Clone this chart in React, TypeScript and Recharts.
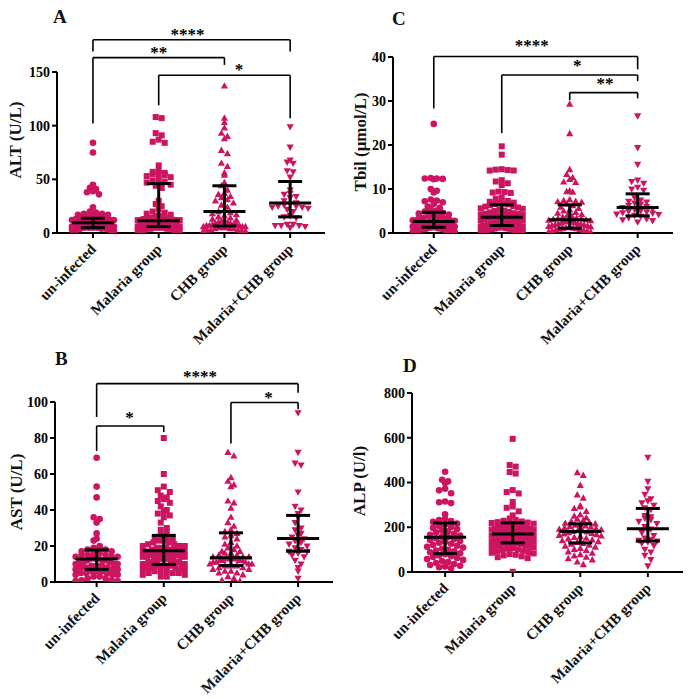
import React from 'react';
import { ScatterChart, Scatter, XAxis, YAxis, ReferenceLine, ReferenceDot } from 'recharts';

const groups = ['un-infected', 'Malaria group', 'CHB group', 'Malaria+CHB group'];
const markerKinds = ['circle', 'square', 'up', 'down'];

// A: ALT (U/L)
const altUninfected = [84, 75, 45, 42, 41, 39, 38, 36, 24, 20, 19, 18, 18, 17, 17, 16, 16, 15, 15, 14, 14, 14, 13, 13, 12, 12, 12, 11, 11, 11, 10, 10, 10, 10, 10, 9, 9, 9, 9, 8, 8, 8, 8, 7, 7, 7, 7, 6, 6, 6, 6, 5, 5, 5, 5, 4, 4, 4, 3, 3, 3, 2];
const altMalaria = [108, 107, 93, 91, 87, 85, 84, 63, 58, 57, 56, 55, 55, 54, 53, 52, 50, 49, 48, 47, 45, 44, 42, 30, 27, 25, 22, 20, 19, 18, 17, 16, 15, 15, 14, 14, 14, 13, 13, 13, 13, 12, 12, 12, 12, 12, 11, 11, 11, 11, 11, 11, 10, 10, 10, 10, 10, 9, 9, 9, 9, 9, 8, 8, 8, 8, 8, 7, 7, 7, 7, 7, 6, 6, 6, 6, 5, 5, 5, 5, 4, 4, 4, 4, 3, 3, 3, 2, 2, 2];
const altChb = [137, 107, 103, 98, 93, 90, 88, 77, 74, 65, 62, 56, 54, 47, 44, 40, 37, 36, 34, 33, 31, 30, 28, 26, 24, 21, 20, 19, 18, 17, 16, 15, 14, 13, 12, 11, 11, 10, 10, 9, 9, 8, 8, 8, 7, 7, 7, 6, 6, 6, 5, 5, 5, 4, 4, 4, 3, 3, 3, 2, 2, 2];
const altMalariaChb = [99, 80, 68, 66, 65, 58, 57, 52, 40, 37, 36, 34, 33, 30, 28, 27, 26, 25, 25, 24, 24, 23, 22, 20, 16, 15, 14, 8, 8, 7, 7, 7, 6, 5];
const altMedian = [9.6, 11.5, 20, 28];
const altQ1 = [5, 6, 6.5, 15];
const altQ3 = [13.7, 46, 44, 48];
const altTicks = [0, 50, 100, 150];
const altBrackets = [
  { from: 1, to: 4, y: 180, leftEnd: 169, rightEnd: 169, stars: '****', starX: 2.44, starY: 187.6 },
  { from: 1, to: 3, y: 163.4, leftEnd: 102, rightEnd: 156.6, stars: '**', starX: 2.0, starY: 170.5 },
  { from: 2, to: 4, y: 147, leftEnd: 119, rightEnd: 107, stars: '*', starX: 3.22, starY: 155 },
];

// B: AST (U/L)
const astUninfected = [69, 53, 47, 36, 35, 33, 27, 24, 23, 20, 19, 19, 18, 18, 17, 17, 16, 16, 15, 15, 15, 14, 14, 14, 13, 13, 13, 12, 12, 12, 11, 11, 11, 10, 10, 10, 9, 9, 9, 8, 8, 8, 7, 7, 7, 6, 6, 6, 5, 5, 5, 4, 4, 4, 3, 3, 2, 2, 1, 1, 0.5, 0.5];
const astMalaria = [80, 60, 53, 51, 50, 48, 47, 46, 45, 44, 42, 40, 39, 38, 37, 36, 33, 30, 29, 27, 26, 25, 24, 24, 23, 23, 22, 22, 21, 21, 20, 20, 20, 19, 19, 19, 18, 18, 18, 17, 17, 17, 17, 16, 16, 16, 15, 15, 15, 15, 14, 14, 14, 14, 13, 13, 13, 13, 12, 12, 12, 12, 11, 11, 11, 11, 10, 10, 10, 10, 9, 9, 9, 9, 8, 8, 8, 7, 7, 7, 6, 6, 6, 5, 5, 5, 4, 4, 3, 3];
const astChb = [72, 70, 58, 56, 54, 53, 45, 44, 41, 36, 33, 31, 29, 28, 27, 26, 25, 24, 22, 21, 20, 19, 18, 17, 17, 16, 16, 15, 15, 14, 14, 14, 13, 13, 13, 13, 12, 12, 12, 12, 11, 11, 11, 10, 10, 10, 9, 9, 9, 8, 8, 7, 7, 6, 6, 5, 5, 4, 3, 2, 1, 0.5];
const astMalariaChb = [94, 72, 66, 65, 50, 42, 40, 38, 36, 33, 30, 29, 27, 26, 25, 24, 23, 22, 21, 20, 19, 18, 17, 17, 16, 15, 14, 12, 10, 8, 6, 2];
const astMedian = [12.8, 17.4, 13.5, 24.1];
const astQ1 = [7, 9.8, 9.2, 17.1];
const astQ3 = [17.8, 25.9, 27.3, 37];
const astTicks = [0, 20, 40, 60, 80, 100];
const astBrackets = [
  { from: 1, to: 4, y: 110.2, leftEnd: 91.7, rightEnd: 105.2, stars: '****', starX: 2.54, starY: 115.8 },
  { from: 1, to: 2, y: 86.7, leftEnd: 72.8, rightEnd: 83.3, stars: '*', starX: 1.49, starY: 92.6 },
  { from: 3, to: 4, y: 99.7, leftEnd: 76.9, rightEnd: 96, stars: '*', starX: 3.56, starY: 104 },
];

// C: Tbil (μmol/L)
const tbilUninfected = [24.8, 12.5, 12.4, 12.4, 12.3, 12.2, 10, 9.6, 9.2, 7.6, 7.4, 7.2, 7, 6.6, 6, 5.7, 5.4, 5.1, 4.9, 4.6, 4.4, 4.2, 4, 3.8, 3.6, 3.4, 3.3, 3.1, 3, 2.9, 2.8, 2.7, 2.6, 2.5, 2.4, 2.3, 2.2, 2.1, 2, 1.9, 1.8, 1.7, 1.6, 1.6, 1.5, 1.4, 1.3, 1.3, 1.2, 1.1, 1, 1, 0.9, 0.8, 0.8, 0.7, 0.6, 0.5, 0.5, 0.4, 0.3, 0.2];
const tbilMalaria = [19.7, 17.8, 14.5, 14.4, 14.3, 14.2, 14.2, 12, 11.7, 11.3, 10.9, 9.4, 9.3, 9.2, 9.1, 8, 7.8, 7.3, 7.1, 6.9, 6.8, 6.7, 6.6, 6.5, 6.3, 6.1, 6, 5.8, 5.6, 5.5, 5.3, 5.1, 5, 4.8, 4.7, 4.5, 4.4, 4.3, 4.2, 4.1, 4, 3.9, 3.8, 3.7, 3.7, 3.6, 3.5, 3.4, 3.3, 3.2, 3.1, 3, 2.9, 2.8, 2.7, 2.6, 2.5, 2.5, 2.4, 2.3, 2.2, 2.1, 2, 2, 1.9, 1.8, 1.7, 1.7, 1.6, 1.5, 1.5, 1.4, 1.3, 1.3, 1.2, 1.1, 1, 1, 0.9, 0.8, 0.8, 0.7, 0.6, 0.6, 0.5, 0.4, 0.4, 0.3];
const tbilChb = [29.3, 22.6, 14.4, 13.3, 12.6, 12.2, 11.6, 11.5, 9.6, 9.4, 9.3, 7.6, 7.4, 7.2, 7.1, 7, 6.6, 6.2, 5.9, 5.6, 5.3, 5, 4.7, 4.5, 4.2, 4, 3.8, 3.6, 3.4, 3.3, 3.2, 3.1, 3, 2.9, 2.8, 2.7, 2.6, 2.5, 2.4, 2.3, 2.2, 2.1, 2, 1.9, 1.8, 1.7, 1.6, 1.5, 1.4, 1.3, 1.2, 1.1, 1, 1, 0.9, 0.8, 0.7, 0.6, 0.5, 0.4, 0.3, 0.2];
const tbilMalariaChb = [26.6, 19.4, 15.6, 12, 11.7, 11.3, 10.4, 10, 9.7, 8, 7.5, 7.2, 7, 6.8, 6.5, 6.3, 6, 5.8, 5.5, 5.3, 5, 4.9, 4.8, 4.6, 4.5, 4.3, 4.2, 4, 3.8, 3.5, 3.2, 3, 2.8, 2.5];
const tbilMedian = [2.6, 3.6, 3.0, 5.8];
const tbilQ1 = [1.3, 1.7, 1.1, 3.9];
const tbilQ3 = [4.7, 6.4, 6.4, 8.9];
const tbilTicks = [0, 10, 20, 30, 40];
const tbilBrackets = [
  { from: 1, to: 4, y: 40.1, leftEnd: 28.3, rightEnd: 37.2, stars: '****', starX: 2.44, starY: 43.1 },
  { from: 2, to: 4, y: 35.9, leftEnd: 22.7, rightEnd: 34.5, stars: '*', starX: 3.11, starY: 38.6 },
  { from: 3, to: 4, y: 31.9, leftEnd: 30.2, rightEnd: 30.6, stars: '**', starX: 3.52, starY: 34.5 },
];

// D: ALP (U/l)
const alpUninfected = [448, 412, 405, 398, 372, 365, 352, 315, 312, 308, 258, 238, 232, 228, 224, 217, 212, 206, 201, 197, 192, 186, 182, 177, 171, 166, 163, 158, 156, 151, 147, 143, 139, 134, 131, 126, 121, 117, 113, 109, 104, 99, 96, 92, 88, 84, 79, 74, 71, 67, 63, 58, 54, 49, 44, 40, 36, 31, 28, 25, 21, 17];
const alpMalaria = [595, 478, 471, 447, 440, 366, 357, 351, 313, 293, 287, 271, 253, 239, 233, 229, 226, 223, 221, 219, 216, 214, 211, 209, 207, 205, 203, 201, 199, 197, 196, 194, 192, 190, 188, 187, 185, 183, 181, 179, 178, 176, 174, 172, 170, 169, 167, 165, 163, 161, 159, 157, 155, 153, 151, 149, 147, 145, 143, 141, 139, 137, 135, 132, 130, 128, 126, 124, 121, 119, 117, 114, 112, 110, 107, 104, 101, 98, 95, 92, 89, 86, 83, 80, 77, 74, 70, 66, 62, 1];
const alpChb = [444, 432, 387, 345, 330, 296, 291, 284, 271, 256, 250, 242, 236, 231, 226, 222, 218, 215, 212, 209, 206, 203, 200, 197, 194, 191, 189, 186, 184, 181, 179, 176, 173, 170, 167, 164, 161, 158, 155, 151, 148, 144, 140, 136, 132, 128, 124, 120, 116, 111, 106, 101, 96, 90, 84, 78, 72, 66, 60, 54, 45, 33];
const alpMalariaChb = [512, 405, 372, 347, 327, 318, 309, 298, 287, 279, 252, 246, 241, 234, 226, 216, 203, 192, 186, 176, 163, 152, 146, 141, 138, 134, 129, 118, 101, 89, 74, 55, 27];
const alpMedian = [155, 170, 181, 193];
const alpQ1 = [82, 130, 130, 138];
const alpQ3 = [219, 220, 215, 284];
const alpTicks = [0, 200, 400, 600, 800];

const FONT = '"Liberation Serif", "Times New Roman", serif';
const DOT = '#CC1460';
const INK = '#000';

type Bracket = { from: number; to: number; y: number; leftEnd: number; rightEnd: number; stars: string; starX: number; starY: number };

const Marker = ({ cx, cy, kind }: { cx: number; cy: number; kind: string }) => {
  if (cx == null || cy == null) return null;
  if (kind === 'circle') return <circle cx={cx} cy={cy} r={3.3} fill={DOT} />;
  if (kind === 'square') return <rect x={cx - 3} y={cy - 3} width={6} height={6} fill={DOT} />;
  if (kind === 'up')
    return <polygon points={`${cx},${cy - 3.8} ${cx + 3.6},${cy + 2.6} ${cx - 3.6},${cy + 2.6}`} fill={DOT} />;
  return <polygon points={`${cx},${cy + 3.8} ${cx + 3.6},${cy - 2.6} ${cx - 3.6},${cy - 2.6}`} fill={DOT} />;
};

// median line plus interquartile whisker, drawn on top of the dots
const Summary = ({ cx, cy, payload, pxPerY }: any) => {
  if (cx == null || cy == null) return null;
  const yLo = cy + (payload.y - payload.lo) * pxPerY;
  const yHi = cy - (payload.hi - payload.y) * pxPerY;
  return (
    <g stroke={INK} strokeWidth={3}>
      <line x1={cx} x2={cx} y1={yLo} y2={yHi} />
      <line x1={cx - 12} x2={cx + 12} y1={yLo} y2={yLo} />
      <line x1={cx - 12} x2={cx + 12} y1={yHi} y2={yHi} />
      <line x1={cx - 21} x2={cx + 21} y1={cy} y2={cy} />
    </g>
  );
};

// Prism-like scatter dot layout: points grouped in rows of marker height,
// spread sideways around the category, compressed when a row gets crowded
function swarm(values: number[], cat: number, pxPerY: number, pxPerX: number) {
  const rowH = 6;
  const half = 21;
  const rows = new Map<number, number[]>();
  values.forEach((v) => {
    const r = Math.floor((v * pxPerY) / rowH);
    if (!rows.has(r)) rows.set(r, []);
    rows.get(r)!.push(v);
  });
  const out: { x: number; y: number }[] = [];
  rows.forEach((list) => {
    const n = list.length;
    const step = n > 1 ? Math.min(6, (2 * half) / (n - 1)) : 0;
    const offs = list.map((_, k) => (k - (n - 1) / 2) * step).sort((a, b) => Math.abs(a) - Math.abs(b));
    list.forEach((v, k) => out.push({ x: cat + offs[k] / pxPerX, y: v }));
  });
  return out;
}

const XTick = (props: any) => {
  const { x, y, payload } = props;
  const ax = x + 4;
  const ay = y + 10;
  return (
    <text x={ax} y={ay} transform={`rotate(-45 ${ax} ${ay})`} textAnchor="end" fontSize={15} fontWeight="bold" fontFamily={FONT} fill="#111">
      {groups[payload.value - 1]}
    </text>
  );
};

const YTitle = ({ text, tx, ty }: { text: string; tx: number; ty: number }) => (
  <text x={tx} y={ty} transform={`rotate(-90 ${tx} ${ty})`} textAnchor="middle" dominantBaseline="central" fontSize={17} fontWeight="bold" fontFamily={FONT} fill="#111">
    {text}
  </text>
);

type PanelProps = {
  title: string;
  series: number[][];
  median: number[];
  q1: number[];
  q3: number[];
  ticks: number[];
  brackets: Bracket[];
  left: number;
  top: number;
  width: number;
  height: number;
  plotTop: number;
  axisWidth: number;
  axisHeight: number;
  rightGap: number;
  xDomain: [number, number];
  titleX: number;
  titleY: number;
};

const Panel = (p: PanelProps) => {
  const plotH = p.height - p.plotTop - p.axisHeight;
  const plotW = p.width - p.axisWidth - p.rightGap;
  const yMax = p.ticks[p.ticks.length - 1];
  const pxPerY = plotH / yMax;
  const pxPerX = plotW / (p.xDomain[1] - p.xDomain[0]);
  const line = { stroke: INK, strokeWidth: 2 };
  const summary = p.median.map((m, i) => ({ x: i + 1, y: m, lo: p.q1[i], hi: p.q3[i] }));

  return (
    <div style={{ position: 'absolute', left: p.left, top: p.top }}>
      <ScatterChart width={p.width} height={p.height} margin={{ top: p.plotTop, right: p.rightGap, bottom: 0, left: 0 }}>
        <XAxis
          type="number"
          dataKey="x"
          domain={p.xDomain}
          ticks={[1, 2, 3, 4]}
          interval={0}
          allowDataOverflow
          height={p.axisHeight}
          tickSize={5}
          tick={<XTick />}
          axisLine={line}
          tickLine={line}
        />
        <YAxis
          type="number"
          dataKey="y"
          domain={[0, yMax]}
          ticks={p.ticks}
          interval={0}
          allowDataOverflow
          width={p.axisWidth}
          tickSize={5}
          tick={{ fill: INK, fontSize: 14, fontWeight: 'bold', fontFamily: FONT }}
          axisLine={line}
          tickLine={line}
          label={<YTitle text={p.title} tx={p.titleX} ty={p.titleY} />}
        />
        {p.series.map((vals, i) => (
          <Scatter
            key={groups[i]}
            name={groups[i]}
            data={swarm(vals, i + 1, pxPerY, pxPerX)}
            isAnimationActive={false}
            shape={(s: any) => <Marker cx={s.cx} cy={s.cy} kind={markerKinds[i]} />}
          />
        ))}
        <Scatter
          name="median"
          data={summary}
          isAnimationActive={false}
          shape={(s: any) => <Summary cx={s.cx} cy={s.cy} payload={s.payload} pxPerY={pxPerY} />}
        />
        {p.brackets.map((b, i) => [
          <ReferenceLine key={`bh${i}`} ifOverflow="visible" segment={[{ x: b.from, y: b.y }, { x: b.to, y: b.y }]} stroke={INK} strokeWidth={1.6} />,
          <ReferenceLine key={`bl${i}`} ifOverflow="visible" segment={[{ x: b.from, y: b.y }, { x: b.from, y: b.leftEnd }]} stroke={INK} strokeWidth={1.6} />,
          <ReferenceLine key={`br${i}`} ifOverflow="visible" segment={[{ x: b.to, y: b.y }, { x: b.to, y: b.rightEnd }]} stroke={INK} strokeWidth={1.6} />,
          <ReferenceDot
            key={`bs${i}`}
            x={b.starX}
            y={b.starY}
            ifOverflow="visible"
            shape={(d: any) => (
              <text x={d.cx} y={d.cy + 8} textAnchor="middle" fontSize={17} fontWeight="bold" fontFamily={FONT} fill={INK}>
                {b.stars}
              </text>
            )}
          />,
        ])}
      </ScatterChart>
    </div>
  );
};

const letters = [
  { t: 'A', x: 53, y: 23 },
  { t: 'C', x: 392, y: 25 },
  { t: 'B', x: 55, y: 365 },
  { t: 'D', x: 403, y: 372 },
];

export default function App() {
  return (
    <div style={{ position: 'absolute', left: 0, top: 0, width: 691, height: 699, background: '#fff', fontFamily: FONT }}>
      <Panel
        title="ALT (U/L)"
        series={[altUninfected, altMalaria, altChb, altMalariaChb]}
        median={altMedian}
        q1={altQ1}
        q3={altQ3}
        ticks={altTicks}
        brackets={altBrackets}
        left={0}
        top={0}
        width={345}
        height={350}
        plotTop={72}
        axisWidth={57}
        axisHeight={117}
        rightGap={20}
        xDomain={[0.453, 4.53]}
        titleX={15}
        titleY={140}
      />
      <Panel
        title="Tbil (μmol/L)"
        series={[tbilUninfected, tbilMalaria, tbilChb, tbilMalariaChb]}
        median={tbilMedian}
        q1={tbilQ1}
        q3={tbilQ3}
        ticks={tbilTicks}
        brackets={tbilBrackets}
        left={345}
        top={0}
        width={346}
        height={350}
        plotTop={57}
        axisWidth={48}
        axisHeight={117}
        rightGap={18}
        xDomain={[0.4, 4.52]}
        titleX={15}
        titleY={142}
      />
      <Panel
        title="AST (U/L)"
        series={[astUninfected, astMalaria, astChb, astMalariaChb]}
        median={astMedian}
        q1={astQ1}
        q3={astQ3}
        ticks={astTicks}
        brackets={astBrackets}
        left={0}
        top={350}
        width={345}
        height={349}
        plotTop={52}
        axisWidth={55}
        axisHeight={117}
        rightGap={12}
        xDomain={[0.38, 4.52]}
        titleX={16}
        titleY={142}
      />
      <Panel
        title="ALP (U/l)"
        series={[alpUninfected, alpMalaria, alpChb, alpMalariaChb]}
        median={alpMedian}
        q1={alpQ1}
        q3={alpQ3}
        ticks={alpTicks}
        brackets={[]}
        left={345}
        top={350}
        width={346}
        height={349}
        plotTop={43}
        axisWidth={67}
        axisHeight={127}
        rightGap={8}
        xDomain={[0.51, 4.52]}
        titleX={14}
        titleY={131}
      />
      <svg width={691} height={699} style={{ position: 'absolute', left: 0, top: 0, pointerEvents: 'none' }}>
        {letters.map((l) => (
          <text key={l.t} x={l.x} y={l.y} fontSize={19} fontWeight="bold" fontFamily={FONT} fill="#111">
            {l.t}
          </text>
        ))}
      </svg>
    </div>
  );
}
